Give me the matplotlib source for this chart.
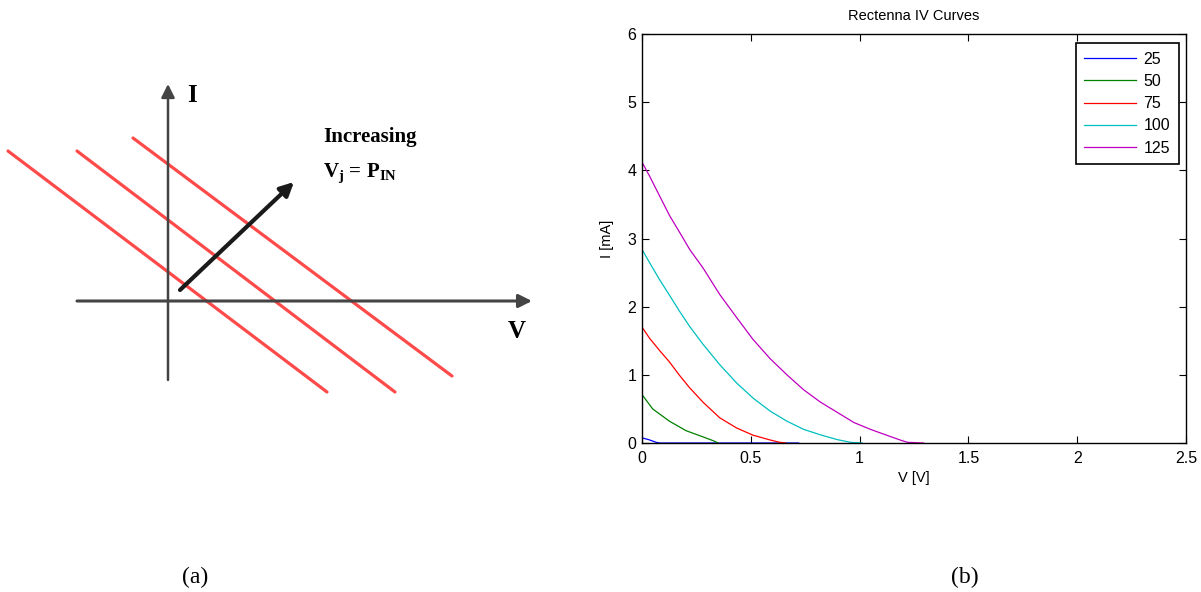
import matplotlib

matplotlib.use("Agg")
import matplotlib.pyplot as plt

plt.rcParams["font.family"] = ["Liberation Sans", "DejaVu Sans"]
plt.rcParams["mathtext.fontset"] = "custom"
plt.rcParams["mathtext.rm"] = "Liberation Serif"
plt.rcParams["mathtext.bf"] = "Liberation Serif:bold"

# Panel (b): rectenna IV curves (V in volts, I in mA)
v_25 = [0.0, 0.03, 0.065, 0.08, 0.72]
i_25 = [0.075, 0.05, 0.01, 0.0, 0.0]

v_50 = [0.0, 0.049, 0.126, 0.203, 0.28, 0.33, 0.35]
i_50 = [0.71, 0.50, 0.32, 0.18, 0.09, 0.03, 0.0]

v_75 = [0.0, 0.034, 0.08, 0.126, 0.173, 0.219, 0.28, 0.357, 0.435, 0.51, 0.588, 0.63, 0.66]
i_75 = [1.70, 1.54, 1.36, 1.19, 0.99, 0.81, 0.60, 0.37, 0.22, 0.115, 0.045, 0.012, 0.0]

v_100 = [0.0, 0.034, 0.08, 0.126, 0.173, 0.219, 0.28, 0.357, 0.435, 0.51, 0.588,
         0.666, 0.743, 0.82, 0.897, 0.958, 1.012]
i_100 = [2.84, 2.65, 2.40, 2.17, 1.93, 1.71, 1.45, 1.15, 0.88, 0.66, 0.47,
         0.32, 0.20, 0.12, 0.05, 0.01, 0.0]

v_125 = [0.0, 0.034, 0.08, 0.126, 0.173, 0.219, 0.28, 0.357, 0.435, 0.51, 0.588,
         0.666, 0.743, 0.82, 0.897, 0.974, 1.05, 1.128, 1.19, 1.22, 1.294]
i_125 = [4.12, 3.92, 3.63, 3.34, 3.09, 2.84, 2.57, 2.18, 1.84, 1.52, 1.24,
         1.00, 0.78, 0.60, 0.45, 0.30, 0.20, 0.11, 0.04, 0.01, 0.0]

series_labels = ["25", "50", "75", "100", "125"]
series_colors = ["#0000ff", "#008000", "#ff0000", "#00bfbf", "#bf00bf"]

x_ticks = [0, 0.5, 1, 1.5, 2, 2.5]
x_tick_labels = ["0", "0.5", "1", "1.5", "2", "2.5"]
y_ticks = [0, 1, 2, 3, 4, 5, 6]

# Panel (a): schematic load lines, arbitrary units with origin at the axis crossing
load_line_starts = [(-1.60, 1.50), (-0.91, 1.50), (-0.35, 1.63)]
load_line_ends = [(1.59, -0.91), (2.27, -0.91), (2.84, -0.75)]
trend_arrow_start = (0.12, 0.11)
trend_arrow_end = (1.26, 1.19)
v_axis_span = (-0.91, 3.64)
i_axis_span = (-0.79, 2.17)

fig = plt.figure(figsize=(12.01, 5.92), dpi=100)

# ---- panel (a) ----
ax_a = fig.add_axes([0, 0, 0.5, 1])
ax_a.set_xlim(-1.68, 6.005 - 1.68)
ax_a.set_ylim(3.01 - 5.92, 3.01)
ax_a.axis("off")

for start, end in zip(load_line_starts, load_line_ends):
    ax_a.plot([start[0], end[0]], [start[1], end[1]], color="#ff2a2a",
              linewidth=2.3, alpha=0.85, solid_capstyle="round")

axis_color = "#444444"
ax_a.annotate("", xy=(v_axis_span[1], 0), xytext=(v_axis_span[0], 0),
              arrowprops=dict(arrowstyle="-|>", color=axis_color, lw=2.2,
                              mutation_scale=20, shrinkA=0, shrinkB=0))
ax_a.annotate("", xy=(0, i_axis_span[1]), xytext=(0, i_axis_span[0]),
              arrowprops=dict(arrowstyle="-|>", color=axis_color, lw=1.8,
                              mutation_scale=20, shrinkA=0, shrinkB=0))
ax_a.annotate("", xy=trend_arrow_end, xytext=trend_arrow_start,
              arrowprops=dict(arrowstyle="-|>", color="#1a1a1a", lw=3.0,
                              mutation_scale=20, shrinkA=0, shrinkB=0))

serif = ["Liberation Serif", "DejaVu Serif"]
ax_a.text(0.24, 2.06, "I", fontsize=18, fontweight="bold", family=serif,
          ha="center", va="center")
ax_a.text(3.49, -0.30, "V", fontsize=18, fontweight="bold", family=serif,
          ha="center", va="center")
ax_a.text(1.55, 1.64, "Increasing", fontsize=15, fontweight="bold", family=serif,
          ha="left", va="center")
ax_a.text(1.55, 1.27, r"V$_\mathbf{j}$ = P$_\mathbf{IN}$", fontsize=15,
          fontweight="bold", family=serif, ha="left", va="center")

# ---- panel (b) ----
ax_b = fig.add_axes([642 / 1201, 1 - 443 / 592, (1186 - 642) / 1201, (443 - 34) / 592])
series = [(v_25, i_25), (v_50, i_50), (v_75, i_75), (v_100, i_100), (v_125, i_125)]
for (v, i), label, color in zip(series, series_labels, series_colors):
    ax_b.plot(v, i, color=color, linewidth=0.9, label=label)

ax_b.set_xlim(0, 2.5)
ax_b.set_ylim(0, 6)
ax_b.set_xticks(x_ticks)
ax_b.set_xticklabels(x_tick_labels)
ax_b.set_yticks(y_ticks)
ax_b.tick_params(direction="in", top=True, right=True, length=5, width=0.8,
                 labelsize=11.5)
ax_b.tick_params(axis="x", pad=6)
ax_b.tick_params(axis="y", pad=4)
for spine in ax_b.spines.values():
    spine.set_linewidth(1.0)

ax_b.set_title("Rectenna IV Curves", fontsize=10.5, pad=10)
ax_b.set_xlabel("V [V]", fontsize=10.5, labelpad=3)
ax_b.set_ylabel("I [mA]", fontsize=10.5, labelpad=10)

leg = ax_b.legend(loc="upper right", bbox_to_anchor=(1179 / 1201, 1 - 43 / 592),
                  bbox_transform=fig.transFigure, borderaxespad=0, fontsize=11.5,
                  fancybox=False, framealpha=1, edgecolor="black",
                  handlelength=3.2, handletextpad=0.5, labelspacing=0.45,
                  borderpad=0.55)
leg.get_frame().set_linewidth(1.2)

# ---- captions ----
fig.text(195 / 1201, 1 - 577 / 592, "(a)", fontsize=17, family=serif,
         ha="center", va="center")
fig.text(965 / 1201, 1 - 577 / 592, "(b)", fontsize=17, family=serif,
         ha="center", va="center")

fig.savefig("out.png", dpi=100)
